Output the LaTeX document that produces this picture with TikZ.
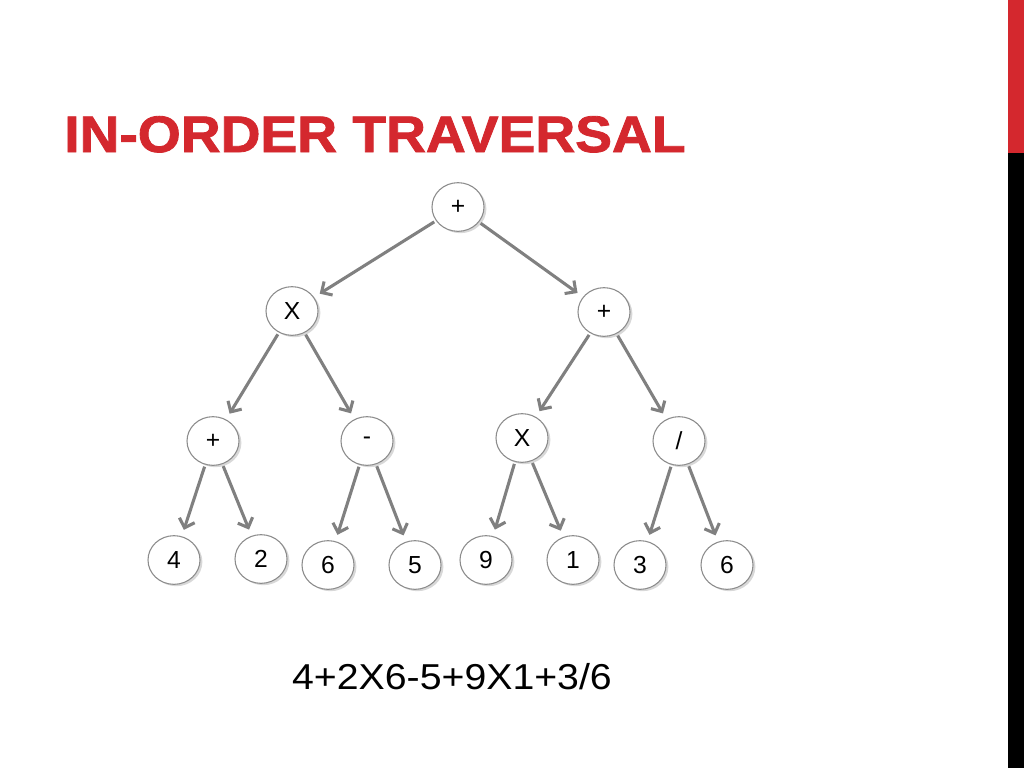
\documentclass[tikz,border=0pt]{standalone}
\usepackage{fontspec}
\setmainfont{Liberation Sans}
\newfontfamily\titlefont{Liberation Sans Bold}[FakeBold=1.6]
\usetikzlibrary{arrows.meta,shapes.geometric,shadows}
\definecolor{titlered}{RGB}{212,40,46}
\definecolor{edgegray}{RGB}{128,128,128}
\definecolor{ringgray}{RGB}{140,140,140}
\begin{document}
\begin{tikzpicture}[x=0.75pt,y=-0.75pt,
  tnode/.style={ellipse,draw=ringgray,line width=0.8pt,fill=white,
    minimum width=39pt,minimum height=36.5pt,inner sep=0pt,
    font=\fontsize{18.5}{20}\selectfont,
    drop shadow={opacity=0.3,shadow xshift=1.8pt,shadow yshift=-1.4pt}},
  edge/.style={draw=edgegray,line width=2.3pt,shorten <=1.5pt,shorten >=5pt,
    -{Straight Barb[length=6pt,width=12pt]}}]
\useasboundingbox (0,0) rectangle (1024,768);
\fill[white] (0,0) rectangle (1024,768);
% side bar
\fill[titlered] (1008,0) rectangle (1024,153);
\fill[black] (1008,153) rectangle (1024,768);
% title
\node[anchor=base west,inner sep=0pt,text=titlered,font=\titlefont\fontsize{38.5}{40}\selectfont] (title) at (64,152) {\scalebox{1.075}[1]{IN-ORDER TRAVERSAL}};
% tree
\node[tnode] (r) at (458,207) {+};
\node[tnode] (a) at (292,311) {X};
\node[tnode] (b) at (604,312) {+};
\node[tnode] (c) at (213,441) {+};
\node[tnode] (d) at (367,441) {-};
\node[tnode] (e) at (522,438) {X};
\node[tnode] (f) at (679,441) {/};
\node[tnode] (l1) at (174,560) {4};
\node[tnode] (l2) at (261,559) {2};
\node[tnode] (l3) at (328,565) {6};
\node[tnode] (l4) at (415,565) {5};
\node[tnode] (l5) at (486,560) {9};
\node[tnode] (l6) at (573,560) {1};
\node[tnode] (l7) at (640,565) {3};
\node[tnode] (l8) at (727,565) {6};
\draw[edge] (r) -- (a);
\draw[edge] (r) -- (b);
\draw[edge] (a) -- (c);
\draw[edge] (a) -- (d);
\draw[edge] (b) -- (e);
\draw[edge] (b) -- (f);
\draw[edge] (c) -- (l1);
\draw[edge] (c) -- (l2);
\draw[edge] (d) -- (l3);
\draw[edge] (d) -- (l4);
\draw[edge] (e) -- (l5);
\draw[edge] (e) -- (l6);
\draw[edge] (f) -- (l7);
\draw[edge] (f) -- (l8);
% expression
\node[anchor=base,inner sep=0pt,font=\fontsize{27}{30}\selectfont] (expr) at (452,689) {\scalebox{1.09}[1]{4+2X6-5+9X1+3/6}};
\end{tikzpicture}
\end{document}
